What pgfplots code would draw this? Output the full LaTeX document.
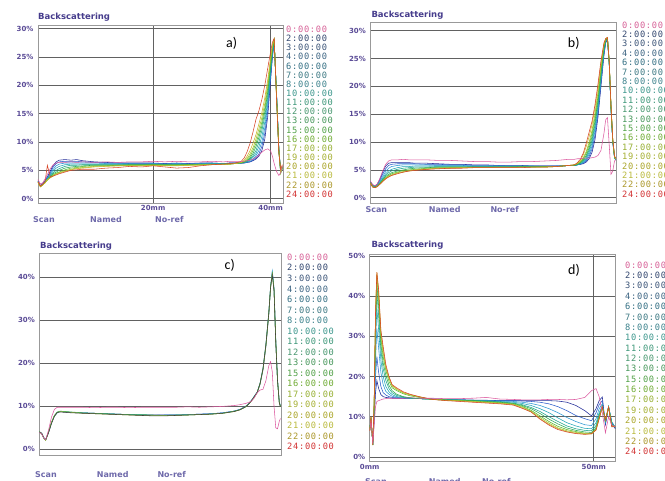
\documentclass[border=0pt]{standalone}
\usepackage{pgfplots}
\pgfplotsset{compat=1.18}
\usepackage{pgfplotstable}
\usepackage{fontspec}
\setmainfont{DejaVu Sans}
\newfontfamily\legfont[LetterSpace=8]{DejaVu Sans Mono}
\newfontfamily\panfont{Carlito}

% curve colours (early = blue ... late = red)
\definecolor{c0}{RGB}{220,90,160}
\definecolor{c2}{RGB}{30,40,150}
\definecolor{c4}{RGB}{40,90,200}
\definecolor{c6}{RGB}{40,150,210}
\definecolor{c8}{RGB}{30,165,180}
\definecolor{c10}{RGB}{30,165,135}
\definecolor{c12}{RGB}{40,170,80}
\definecolor{c15}{RGB}{90,185,40}
\definecolor{c17}{RGB}{160,195,40}
\definecolor{c20}{RGB}{200,180,40}
\definecolor{c24}{RGB}{215,70,40}
% legend text colours
\definecolor{l0}{RGB}{214,96,150}
\definecolor{l2}{RGB}{50,70,110}
\definecolor{l3}{RGB}{60,85,120}
\definecolor{l4}{RGB}{60,100,130}
\definecolor{l6}{RGB}{50,110,130}
\definecolor{l7}{RGB}{60,120,130}
\definecolor{l8}{RGB}{60,130,140}
\definecolor{l10}{RGB}{60,150,140}
\definecolor{l11}{RGB}{60,150,120}
\definecolor{l12}{RGB}{70,150,110}
\definecolor{l13}{RGB}{70,150,90}
\definecolor{l15}{RGB}{80,160,70}
\definecolor{l16}{RGB}{110,170,50}
\definecolor{l17}{RGB}{150,175,50}
\definecolor{l19}{RGB}{165,175,50}
\definecolor{l20}{RGB}{170,165,40}
\definecolor{l21}{RGB}{185,185,60}
\definecolor{l22}{RGB}{170,150,40}
\definecolor{l24}{RGB}{210,50,50}
\definecolor{titlec}{RGB}{70,60,140}
\definecolor{tickc}{RGB}{90,75,150}
\definecolor{botc}{RGB}{110,105,170}

\newcommand\tickfont{\fontsize{7}{8}\selectfont\bfseries}
\newcommand\titlefont{\fontsize{8.5}{10}\selectfont\bfseries}
\newcommand\botfont{\fontsize{8}{9}\selectfont\bfseries}

% panel a)
\pgfplotstableread{
x    t0   t2   t4   t6   t8   t10  t12  t15  t17  t20  t24
0.4  3.4  3.2  3.1  3.1  3.0  3.0  3.0  2.9  2.9  2.9  3.0
0.8  2.6  2.3  2.3  2.2  2.2  2.2  2.2  2.1  2.1  2.1  2.2
1.2  2.8  2.6  2.6  2.5  2.5  2.5  2.4  2.4  2.4  2.4  2.6
1.6  3.5  3.2  3.1  3.0  3.0  2.9  2.9  2.9  2.8  2.8  3.0
2.0  4.3  3.9  3.7  3.6  3.5  3.4  3.4  3.3  3.3  3.4  5.9
2.5  5.3  4.9  4.6  4.4  4.2  4.0  3.9  3.8  3.7  3.7  3.8
3.0  6.0  5.9  5.6  5.2  4.9  4.6  4.4  4.2  4.1  4.0  4.0
3.5  6.3  6.5  6.2  5.8  5.4  5.0  4.7  4.5  4.4  4.3  4.2
4.0  6.4  6.8  6.5  6.1  5.7  5.3  5.0  4.7  4.6  4.5  4.4
5    6.4  6.9  6.6  6.3  6.0  5.7  5.4  5.1  4.9  4.8  4.7
6    6.5  6.8  6.6  6.3  6.1  5.9  5.6  5.4  5.2  5.1  5.0
7    6.4  6.9  6.6  6.3  6.1  5.9  5.7  5.5  5.4  5.3  5.1
8    6.5  6.7  6.5  6.3  6.1  6.0  5.8  5.7  5.5  5.4  5.2
10   6.4  6.5  6.4  6.3  6.1  6.0  5.9  5.8  5.7  5.6  5.2
12   6.5  6.4  6.3  6.2  6.1  6.0  5.9  5.8  5.8  5.7  5.4
14   6.4  6.3  6.3  6.2  6.1  6.0  5.9  5.9  5.8  5.8  5.5
16   6.5  6.3  6.2  6.2  6.1  6.0  6.0  5.9  5.9  5.8  5.7
18   6.5  6.3  6.2  6.1  6.1  6.0  6.0  5.9  5.9  5.8  5.6
20   6.6  6.3  6.2  6.2  6.1  6.0  6.0  6.0  5.9  5.9  5.8
22   6.5  6.2  6.2  6.1  6.1  6.0  6.0  5.9  5.9  5.8  5.6
24   6.6  6.3  6.2  6.2  6.1  6.0  6.0  5.9  5.9  5.8  5.4
26   6.5  6.2  6.2  6.1  6.1  6.0  6.0  6.0  5.9  5.9  5.5
28   6.5  6.3  6.2  6.2  6.1  6.1  6.0  6.0  6.0  5.9  5.8
30   6.6  6.3  6.3  6.2  6.2  6.1  6.1  6.0  6.0  6.0  6.0
32   6.5  6.2  6.2  6.2  6.2  6.1  6.1  6.1  6.1  6.0  6.1
33   6.6  6.3  6.3  6.2  6.2  6.2  6.1  6.1  6.1  6.1  6.2
34   6.6  6.3  6.3  6.3  6.2  6.2  6.2  6.2  6.2  6.2  6.3
35   6.6  6.3  6.3  6.3  6.3  6.3  6.3  6.4  6.4  6.4  6.6
35.5 6.6  6.3  6.3  6.4  6.4  6.4  6.5  6.5  6.6  6.8  7.2
36   6.7  6.4  6.4  6.5  6.5  6.6  6.7  6.9  7.1  7.5  8.3
36.5 6.8  6.5  6.5  6.6  6.8  7.0  7.2  7.5  7.9  8.5  9.8
37   7.0  6.7  6.8  7.0  7.3  7.6  8.0  8.5  9.0  9.8  11.8
37.5 7.3  7.0  7.2  7.6  8.0  8.5  9.2  9.8  10.5 11.3 14.0
38   7.7  7.5  7.9  8.5  9.2  10.0 10.8 11.5 12.3 13.2 15.5
38.5 8.2  8.5  9.2  10.0 11.0 12.0 12.8 13.5 14.3 15.2 17.5
39   8.6  10.5 11.5 12.5 13.5 14.5 15.3 16.0 16.8 17.8 20.0
39.5 8.8  14.5 15.5 16.5 17.3 18.0 18.8 19.5 20.2 21.0 23.0
40   8.4  21.0 21.5 22.0 22.5 23.0 23.5 24.0 24.5 25.0 26.0
40.3 7.5  25.0 25.2 25.5 25.8 26.0 26.3 26.6 26.8 27.2 27.6
40.6 6.2  27.5 27.6 27.7 27.8 27.9 28.0 28.1 28.1 28.2 28.3
41.0 4.8  18.5 18.8 18.3 18.6 18.0 18.4 18.2 17.8 18.0 17.5
41.4 4.1  8.8  8.6  8.4  8.7  8.3  8.5  8.2  8.6  8.4  8.0
41.7 4.6  4.8  5.0  4.6  4.9  4.5  5.1  4.7  4.4  4.8  5.2
42.0 5.8  5.4  5.6  5.3  5.7  5.5  5.2  5.6  5.4  5.8  6.0
}\tabA

% panel b)
\pgfplotstableread{
x    t0   t2   t4   t6   t8   t10  t12  t15  t17  t20  t24
0.4  3.0  2.9  2.9  2.8  2.8  2.8  2.7  2.7  2.7  2.6  2.6
0.8  2.4  2.3  2.2  2.2  2.1  2.1  2.0  2.0  2.0  1.9  1.9
1.2  2.1  2.1  2.0  2.0  1.9  1.9  1.9  1.8  1.8  1.8  1.8
1.6  2.5  2.5  2.4  2.3  2.2  2.2  2.1  2.1  2.1  2.0  2.0
2.0  3.4  3.3  3.1  2.9  2.7  2.6  2.5  2.5  2.4  2.4  2.4
2.5  4.8  4.6  4.2  3.8  3.5  3.3  3.2  3.1  3.0  2.9  2.9
3.0  6.0  5.7  5.2  4.7  4.3  4.0  3.8  3.6  3.5  3.4  3.4
3.5  6.6  6.2  5.8  5.3  4.8  4.5  4.2  4.0  3.9  3.8  3.7
4.0  6.8  6.3  6.0  5.6  5.1  4.8  4.5  4.3  4.1  4.0  4.0
5    6.8  6.3  6.1  5.8  5.4  5.1  4.8  4.6  4.5  4.4  4.3
6    6.9  6.3  6.1  5.9  5.6  5.3  5.0  4.9  4.7  4.6  4.6
7    6.8  6.3  6.1  5.9  5.6  5.4  5.2  5.0  4.9  4.8  4.8
8    6.8  6.2  6.1  5.9  5.7  5.5  5.3  5.1  5.0  5.0  4.9
10   6.8  6.2  6.0  5.9  5.7  5.5  5.4  5.3  5.2  5.1  5.1
12   6.7  6.1  6.0  5.8  5.7  5.6  5.5  5.4  5.3  5.3  5.2
14   6.7  6.0  5.9  5.8  5.7  5.6  5.5  5.4  5.4  5.3  5.3
16   6.6  6.0  5.9  5.8  5.7  5.6  5.5  5.4  5.4  5.4  5.3
18   6.5  5.9  5.8  5.7  5.6  5.6  5.5  5.5  5.4  5.4  5.4
20   6.5  5.9  5.8  5.7  5.6  5.6  5.5  5.5  5.4  5.4  5.4
22   6.4  5.8  5.8  5.7  5.6  5.6  5.5  5.5  5.5  5.4  5.4
24   6.4  5.8  5.7  5.7  5.6  5.6  5.5  5.5  5.5  5.4  5.4
26   6.5  5.8  5.7  5.7  5.6  5.6  5.6  5.5  5.5  5.5  5.4
28   6.5  5.7  5.7  5.7  5.6  5.6  5.6  5.5  5.5  5.5  5.5
30   6.6  5.7  5.7  5.6  5.6  5.6  5.6  5.6  5.5  5.5  5.5
32   6.7  5.7  5.7  5.7  5.6  5.6  5.6  5.6  5.6  5.6  5.6
33   6.8  5.7  5.7  5.7  5.7  5.7  5.7  5.7  5.7  5.7  5.7
34   6.9  5.8  5.8  5.8  5.8  5.8  5.8  5.8  5.8  5.8  5.8
35   6.9  5.8  5.8  5.8  5.8  5.8  5.8  5.9  5.9  5.9  5.9
35.5 7.0  5.9  5.9  5.9  5.9  6.0  6.0  6.1  6.1  6.2  6.3
36   7.0  6.0  6.0  6.1  6.1  6.2  6.3  6.4  6.5  6.7  6.9
36.5 7.1  6.1  6.2  6.3  6.4  6.6  6.8  7.0  7.2  7.7  8.0
37   7.1  6.4  6.6  6.8  7.0  7.3  7.6  8.0  8.3  9.2  9.8
37.5 7.1  7.0  7.4  7.8  8.2  8.6  9.0  9.5  10.0 11.0 11.8
38   7.2  8.2  8.8  9.3  9.9  10.4 11.0 11.6 12.2 13.2 13.8
38.5 7.3  10.5 11.3 12.0 12.6 13.2 13.8 14.5 15.2 16.2 16.8
39   7.6  14.5 15.2 15.8 16.4 17.0 17.6 18.3 19.0 19.9 20.5
39.5 8.5  20.0 20.6 21.0 21.5 22.0 22.5 23.0 23.5 24.2 24.6
40   11.5 25.5 25.8 26.0 26.3 26.6 26.9 27.2 27.4 27.6 27.8
40.3 14.0 27.8 27.9 28.0 28.1 28.2 28.3 28.4 28.5 28.6 28.6
40.6 14.4 28.5 28.5 28.6 28.6 28.7 28.7 28.7 28.8 28.8 28.8
40.9 9.5  24.0 24.2 24.0 24.1 24.3 24.2 24.4 24.5 24.6 24.6
41.2 4.2  16.0 16.2 16.0 16.1 16.3 16.2 16.4 16.5 16.6 16.6
41.5 4.8  10.0 10.2 10.0 10.1 10.3 10.2 10.4 10.5 10.6 10.6
41.8 6.6  7.2  7.3  7.1  7.2  7.4  7.3  7.3  7.4  7.5  7.5
42.0 6.8  6.8  6.9  6.8  6.9  7.0  6.9  6.9  7.0  7.0  7.1
}\tabB

% panel c)
\pgfplotstableread{
x    t0   t2   t6   t12  t17  t24
0.4  4.0  4.1  4.0  4.2  4.1  4.0
0.8  3.6  3.7  3.8  3.6  3.7  3.8
1.2  2.6  2.6  2.7  2.5  2.6  2.7
1.5  2.3  2.2  2.3  2.2  2.1  2.2
2.0  4.5  4.0  3.9  4.1  4.0  3.9
2.5  7.5  6.2  6.1  6.3  6.2  6.0
3.0  9.3  7.8  7.7  7.9  7.8  7.7
3.5  9.8  8.6  8.5  8.7  8.6  8.6
4.0  9.8  8.8  8.8  8.9  8.8  8.7
5    9.8  8.7  8.7  8.8  8.7  8.6
6    9.8  8.6  8.6  8.7  8.6  8.5
8    9.8  8.5  8.5  8.5  8.4  8.4
10   9.7  8.4  8.4  8.4  8.3  8.3
12   9.8  8.3  8.3  8.3  8.2  8.2
14   9.8  8.2  8.2  8.2  8.1  8.1
16   9.7  8.1  8.1  8.1  8.0  8.0
18   9.8  8.0  8.0  8.1  7.9  7.9
20   9.8  8.0  7.9  8.0  7.9  7.8
22   9.8  8.0  8.0  7.9  7.9  7.8
24   9.8  8.0  8.0  8.0  7.9  7.9
26   9.9  8.1  8.1  8.0  8.0  8.0
28   9.8  8.2  8.2  8.1  8.1  8.1
30   9.9  8.3  8.3  8.2  8.2  8.2
32   10.0 8.5  8.5  8.4  8.4  8.4
33   10.1 8.7  8.7  8.6  8.6  8.6
34   10.2 8.9  8.9  8.9  8.8  8.8
35   10.4 9.3  9.3  9.2  9.2  9.2
36   10.7 10.0 10.0 9.9  9.9  9.9
36.5 10.9 10.6 10.6 10.5 10.5 10.5
37   11.2 11.4 11.4 11.3 11.3 11.3
37.5 12.0 12.3 12.4 12.3 12.2 12.3
38   13.2 13.2 13.4 13.3 13.2 13.3
38.5 13.8 15.2 15.5 15.4 15.3 15.4
39   14.0 18.5 19.0 18.8 18.7 18.8
39.5 16.0 24.0 24.6 24.3 24.2 24.4
40   19.5 31.5 32.0 31.8 31.6 31.8
40.3 20.4 37.5 38.0 37.8 37.6 37.7
40.6 18.0 41.3 41.5 41.0 40.8 40.6
40.9 10.0 37.0 37.5 37.2 37.0 36.8
41.2 5.0  25.0 25.5 25.2 25.0 24.8
41.5 4.8  16.0 16.3 16.1 16.0 15.9
41.8 6.5  11.0 11.2 11.0 11.0 10.9
42.0 7.2  10.0 10.1 10.0 9.9  9.9
}\tabC

% panel d)
\pgfplotstableread{
x    t0   t2   t4   t6   t8   t10  t12  t15  t17  t20  t24
0    6.5  6.6  6.6  6.6  6.6  6.6  6.6  6.6  6.5  6.5  6.5
0.3  9.0  9.5  9.5  9.6  9.6  9.7  9.8  9.8  9.9  9.9  10.0
0.7  3.2  3.0  3.0  3.0  3.0  3.0  3.0  3.0  2.9  2.9  2.9
1.0  8.0  9.0  10.0 11.0 12.0 12.5 13.0 13.5 13.5 13.8 14.0
1.3  12.5 16.0 20.0 24.0 28.0 31.0 33.0 35.0 35.5 36.0 36.0
1.6  13.8 19.0 25.0 32.0 37.0 41.0 43.0 45.0 45.5 46.0 46.0
2.0  14.0 17.0 21.0 27.0 31.5 35.0 37.5 39.5 40.5 41.0 41.5
2.5  14.2 15.5 17.5 21.0 24.0 26.5 28.0 29.5 30.5 31.0 31.5
3.0  14.4 15.0 16.0 18.0 20.0 22.0 23.5 25.0 26.0 27.0 27.5
3.6  14.5 14.8 15.4 16.3 17.5 19.0 20.3 21.5 22.0 22.5 23.0
4.3  14.6 14.7 15.0 15.6 16.2 17.0 17.8 18.8 19.5 19.8 20.0
5.0  14.6 14.6 14.8 15.1 15.5 16.0 16.5 17.2 17.6 17.8 18.0
6.0  14.6 14.6 14.7 14.8 15.0 15.3 15.6 16.5 16.8 17.0 17.2
7.5  14.6 14.6 14.6 14.7 14.8 14.9 15.0 15.7 15.9 16.0 16.2
9    14.7 14.6 14.6 14.6 14.6 14.7 14.7 15.2 15.4 15.5 15.6
11   14.6 14.5 14.5 14.5 14.5 14.5 14.5 14.8 14.9 15.0 15.0
14   14.6 14.4 14.4 14.4 14.4 14.4 14.3 14.3 14.3 14.3 14.3
17   14.5 14.3 14.3 14.3 14.3 14.2 14.2 14.1 14.1 14.1 14.0
20   14.5 14.2 14.2 14.2 14.2 14.1 14.1 14.0 14.0 13.9 13.8
23   14.6 14.1 14.1 14.1 14.1 14.0 14.0 13.9 13.8 13.7 13.6
26   14.8 14.1 14.0 14.0 13.9 13.9 13.8 13.7 13.6 13.5 13.4
29   14.4 14.0 14.0 13.9 13.8 13.7 13.6 13.5 13.4 13.3 13.2
32   14.3 14.0 14.0 13.8 13.6 13.4 13.3 13.2 13.1 13.0 12.9
34   14.2 14.0 13.9 13.6 13.3 13.0 12.8 12.6 12.4 12.2 12.1
36   14.2 14.0 13.8 13.3 12.8 12.3 12.0 11.6 11.4 11.2 11.2
38   14.2 14.0 13.6 12.8 12.0 11.3 10.8 10.2 9.8  9.5  9.4
40   14.3 14.0 13.2 12.0 11.0 10.0 9.4  8.8  8.4  8.1  7.9
42   14.3 13.9 12.5 11.0 9.7  8.8  8.2  7.6  7.2  7.0  6.8
44   14.2 13.6 11.5 9.8  8.5  7.7  7.2  6.8  6.5  6.3  6.2
46   14.3 12.8 10.3 8.8  7.7  7.0  6.6  6.3  6.1  5.9  5.8
48   14.8 11.5 9.5  8.0  7.1  6.6  6.2  5.9  5.8  5.7  5.6
49.5 16.5 10.2 9.0  7.8  7.0  6.5  6.1  5.9  5.8  5.7  5.8
50.5 17.0 12.0 11.0 9.5  8.5  7.8  7.3  7.0  6.8  6.7  6.7
51.2 15.0 14.0 13.0 12.0 11.0 10.5 10.0 9.8  9.6  9.5  9.5
51.9 11.0 14.9 14.0 13.2 12.8 12.6 12.5 12.4 12.4 12.4 12.4
52.6 6.0  8.0  8.3  8.6  8.8  8.9  9.0  9.1  9.1  9.1  9.2
53.3 10.0 12.5 12.3 12.5 12.6 12.5 12.4 12.4 12.4 12.4 12.4
54.0 8.0  8.5  8.5  8.8  8.6  8.2  8.0  7.8  7.7  7.6  7.5
54.8 7.5  7.0  7.2  7.3  7.4  7.4  7.5  7.5  7.5  7.5  7.5
}\tabD

\pgfplotsset{
  turbi/.style={
    scale only axis, anchor=north west, clip=true,
    axis line style={draw=black!40, line width=0.6pt},
    ymajorgrids, xmajorgrids,
    major grid style={draw=black!62, line width=0.6pt},
    major tick length=0pt,
    tick label style={font=\tickfont, text=tickc},
    yticklabel style={anchor=east, xshift=-1pt},
    xticklabel style={yshift=1pt},
    every axis plot/.append style={line width=0.55pt, mark=none},
  },
}

\newcommand\allseries[1]{%
  \addplot[c2]  table[x=x,y=t2]{#1};
  \addplot[c4]  table[x=x,y=t4]{#1};
  \addplot[c6]  table[x=x,y=t6]{#1};
  \addplot[c8]  table[x=x,y=t8]{#1};
  \addplot[c10] table[x=x,y=t10]{#1};
  \addplot[c12] table[x=x,y=t12]{#1};
  \addplot[c15] table[x=x,y=t15]{#1};
  \addplot[c17] table[x=x,y=t17]{#1};
  \addplot[c20] table[x=x,y=t20]{#1};
  \addplot[c24] table[x=x,y=t24]{#1};
  \addplot[c0]  table[x=x,y=t0]{#1};
}

\newcommand\timeleg[3]{%
  \foreach \lab/\col [count=\i from 0] in {0:00:00/l0,2:00:00/l2,3:00:00/l3,4:00:00/l4,6:00:00/l6,7:00:00/l7,8:00:00/l8,10:00:00/l10,11:00:00/l11,12:00:00/l12,13:00:00/l13,15:00:00/l15,16:00:00/l16,17:00:00/l17,19:00:00/l19,20:00:00/l20,21:00:00/l21,22:00:00/l22,24:00:00/l24}
    \node[anchor=west, inner sep=0pt, font=\legfont\fontsize{8.7}{9}\selectfont, text=\col] at (#1pt, {-(#2+\i*#3)*1pt}) {\lab};
}

\newcommand\bottomrow[4]{%
  \node[anchor=west, inner sep=0pt, font=\botfont, text=botc] at (#1pt,-#4pt) {Scan};
  \node[anchor=west, inner sep=0pt, font=\botfont, text=botc] at (#2pt,-#4pt) {Named};
  \node[anchor=west, inner sep=0pt, font=\botfont, text=botc] at (#3pt,-#4pt) {No-ref};
}

\begin{document}
\begin{tikzpicture}
\path[use as bounding box] (0,0) rectangle (665pt,-480pt);

% a)
\begin{axis}[turbi, at={(38pt,-25pt)}, width=245pt, height=178pt,
  xmin=0.4, xmax=42.1, ymin=-0.76, ymax=30.65,
  xtick={20,40}, xticklabels={20mm,40mm},
  ytick={0,5,...,30}, yticklabels={0\%,5\%,10\%,15\%,20\%,25\%,30\%}]
  \allseries{\tabA}
\end{axis}

% b)
\begin{axis}[turbi, at={(370.3pt,-22.7pt)}, width=246pt, height=180.3pt,
  xmin=0.4, xmax=42.1, ymin=-0.95, ymax=31.45,
  xtick=\empty,
  ytick={0,5,...,30}, yticklabels={0\%,5\%,10\%,15\%,20\%,25\%,30\%}]
  \allseries{\tabB}
\end{axis}

% c)
\begin{axis}[turbi, at={(39.3pt,-253.3pt)}, width=241.7pt, height=201.7pt,
  xmin=0.4, xmax=42.1, ymin=-1.3, ymax=45.6,
  xtick=\empty,
  ytick={0,10,...,40}, yticklabels={0\%,10\%,20\%,30\%,40\%}]
  \addplot[c2]  table[x=x,y=t2]{\tabC};
  \addplot[c6]  table[x=x,y=t6]{\tabC};
  \addplot[c12] table[x=x,y=t12]{\tabC};
  \addplot[c17] table[x=x,y=t17]{\tabC};
  \addplot[black!75] table[x=x,y=t24]{\tabC};
  \addplot[c0]  table[x=x,y=t0]{\tabC};
\end{axis}

% d)
\begin{axis}[turbi, at={(369.7pt,-254pt)}, width=245.6pt, height=207.7pt,
  xmin=0, xmax=54.8, ymin=-1.2, ymax=50.5,
  xtick={0,50}, xticklabels={0mm,50mm},
  ytick={0,10,...,50}, yticklabels={0\%,10\%,20\%,30\%,40\%,50\%}]
  \allseries{\tabD}
\end{axis}

% titles
\foreach \px/\py in {38/16.7, 371.3/15, 40/246, 371.3/245}
  \node[anchor=west, inner sep=0pt, font=\titlefont, text=titlec] at (\px pt,-\py pt) {Backscattering};

% panel letters
\node[font=\panfont\fontsize{14}{14}\selectfont] at (231.7pt,-43.3pt) {a)};
\node[font=\panfont\fontsize{14}{14}\selectfont] at (573.7pt,-43.3pt) {b)};
\node[font=\panfont\fontsize{14}{14}\selectfont] at (229.7pt,-265pt) {c)};
\node[font=\panfont\fontsize{14}{14}\selectfont] at (574pt,-270.7pt) {d)};

% time legends
\timeleg{286}{29.3}{9.15}
\timeleg{622}{25}{9.39}
\timeleg{287}{257.3}{10.52}
\timeleg{625}{265}{10.37}

% bottom rows
\bottomrow{33}{90}{155}{220}
\bottomrow{365.3}{428.7}{490.3}{210}
\bottomrow{35}{96.7}{157.3}{475}
\bottomrow{365}{428.7}{482}{482}
\end{tikzpicture}
\end{document}
